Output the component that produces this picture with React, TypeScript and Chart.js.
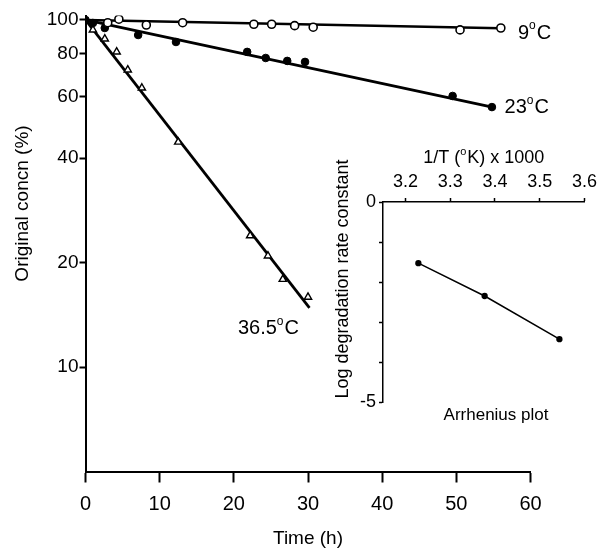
import React, { useEffect, useRef } from 'react';
import { Chart, registerables } from 'chart.js';

Chart.register(...registerables);

const FONT = '"Liberation Sans", Arial, Helvetica, sans-serif';

// ---- Main chart data (time in h, concentration in % of original) ----
const t9 = [3, 4.5, 8.2, 13.1, 22.7, 25.1, 28.2, 30.7, 50.5, 56];
const c9 = [98.2, 100.5, 96.7, 98.2, 97.2, 97.2, 96.3, 95.3, 93.6, 94.8];
const t23 = [0, 1.0, 2.6, 7.1, 12.2, 21.8, 24.3, 27.2, 29.6, 49.5, 54.8];
const c23 = [100, 98, 94.8, 90.5, 86.4, 80.9, 77.7, 76.2, 75.7, 60.4, 56.1];
const t365 = [1.0, 2.6, 4.2, 5.7, 7.6, 12.5, 22.2, 24.6, 26.6, 30.0];
const c365 = [93.6, 88.2, 80.9, 71.8, 63.7, 44.5, 23.9, 20.9, 17.9, 15.9];

// fitted regression lines (end points)
const fit9T = [0, 56];
const fit9C = [100, 94.6];
const fit23T = [0, 55];
const fit23C = [100, 56];
const fit365T = [0, 30.2];
const fit365C = [100, 14.8];

const xTicks = [0, 10, 20, 30, 40, 50, 60];
const yTicks = [10, 20, 40, 60, 80, 100];

const curveLabels = ['9°C', '23°C', '36.5°C'];
const labelT = [58.3, 56.5, 20.55];
const labelC = [91.7, 55.8, 12.9];

// ---- Inset (Arrhenius plot) ----
const invT = [3.229, 3.377, 3.544];
const logK = [-1.53, -2.35, -3.43];
const insetXTicks = [3.2, 3.3, 3.4, 3.5, 3.6];
const insetYTicks = [0, -1, -2, -3, -4, -5];
const insetYLabels = ['0', '', '', '', '', '-5'];

const pts = (xs: number[], ys: number[]) => xs.map((x, i) => ({ x, y: ys[i] }));

function drawDeg(ctx: CanvasRenderingContext2D, text: string, x: number, y: number, size: number, align: 'left' | 'center') {
  const parts = text.split('°');
  const big = `${size}px ${FONT}`;
  const small = `${Math.round(size * 0.62)}px ${FONT}`;
  ctx.font = big;
  const w0 = ctx.measureText(parts[0]).width;
  const w2 = parts.length > 1 ? ctx.measureText(parts[1]).width : 0;
  ctx.font = small;
  const w1 = parts.length > 1 ? ctx.measureText('o').width + 1 : 0;
  const total = w0 + w1 + w2;
  let cx = align === 'center' ? x - total / 2 : x;
  ctx.textAlign = 'left';
  ctx.textBaseline = 'middle';
  ctx.fillStyle = '#000';
  ctx.font = big;
  ctx.fillText(parts[0], cx, y);
  cx += w0;
  if (parts.length > 1) {
    ctx.font = small;
    ctx.fillText('o', cx, y - size * 0.36);
    cx += w1;
    ctx.font = big;
    ctx.fillText(parts[1], cx, y);
  }
}

const mainText = {
  id: 'mainText',
  afterDraw(chart: any) {
    const { ctx, chartArea, scales } = chart;
    ctx.save();
    curveLabels.forEach((s, i) => {
      drawDeg(ctx, s, scales.x.getPixelForValue(labelT[i]), scales.y.getPixelForValue(labelC[i]), 20, 'left');
    });
    // x title
    ctx.font = `19px ${FONT}`;
    ctx.fillStyle = '#000';
    ctx.textAlign = 'center';
    ctx.textBaseline = 'middle';
    ctx.fillText('Time (h)', (chartArea.left + chartArea.right) / 2, chartArea.bottom + 67);
    // y title
    ctx.translate(chartArea.left - 62.5, chartArea.top + 188);
    ctx.rotate(-Math.PI / 2);
    ctx.fillText('Original concn (%)', 0, 0);
    ctx.restore();
  },
};

const insetText = {
  id: 'insetText',
  afterDraw(chart: any) {
    const { ctx, chartArea } = chart;
    ctx.save();
    drawDeg(ctx, '1/T (°K) x 1000', (chartArea.left + chartArea.right) / 2, chartArea.top - 44, 18, 'center');
    ctx.font = `17px ${FONT}`;
    ctx.fillStyle = '#000';
    ctx.textAlign = 'center';
    ctx.textBaseline = 'middle';
    ctx.fillText('Arrhenius plot', chartArea.left + 113, chartArea.bottom + 13);
    ctx.font = `18px ${FONT}`;
    ctx.translate(chartArea.left - 40, chartArea.top + 77);
    ctx.rotate(-Math.PI / 2);
    ctx.fillText('Log degradation rate constant', 0, 0);
    ctx.restore();
  },
};

export default function App() {
  const mainRef = useRef<HTMLCanvasElement>(null);
  const insetRef = useRef<HTMLCanvasElement>(null);

  useEffect(() => {
    const main = new Chart(mainRef.current!, {
      type: 'scatter',
      data: {
        datasets: [
          {
            data: pts(t9, c9), showLine: false, pointStyle: 'circle', pointRadius: 4,
            pointBackgroundColor: '#fff', pointBorderColor: '#000', pointBorderWidth: 1.6, order: 0,
          },
          {
            data: pts(t23, c23), showLine: false, pointStyle: 'circle', pointRadius: 3.8,
            pointBackgroundColor: '#000', pointBorderColor: '#000', pointBorderWidth: 1, order: 0,
          },
          {
            data: pts(t365, c365), showLine: false, pointStyle: 'triangle', pointRadius: 4.2,
            pointBackgroundColor: '#fff', pointBorderColor: '#000', pointBorderWidth: 1.4, order: 0,
          },
          { data: pts(fit9T, fit9C), showLine: true, borderColor: '#000', borderWidth: 2.4, pointRadius: 0, order: 1 },
          { data: pts(fit23T, fit23C), showLine: true, borderColor: '#000', borderWidth: 2.8, pointRadius: 0, order: 1 },
          { data: pts(fit365T, fit365C), showLine: true, borderColor: '#000', borderWidth: 2.8, pointRadius: 0, order: 1 },
        ],
      },
      options: {
        responsive: false,
        devicePixelRatio: 1,
        animation: false,
        layout: { padding: { top: 15.5, right: 71.5, bottom: 0, left: 0 } },
        plugins: { legend: { display: false }, tooltip: { enabled: false } },
        scales: {
          x: {
            type: 'linear', min: 0, max: 60,
            afterBuildTicks: (s: any) => { s.ticks = xTicks.map((v) => ({ value: v })); },
            afterFit: (s: any) => { s.height = 81.5; },
            ticks: { color: '#000', font: { family: FONT, size: 20 }, padding: 10, callback: (v: any) => String(v), maxRotation: 0 },
            grid: { drawOnChartArea: false, drawTicks: true, tickLength: 11, tickColor: '#000', tickWidth: 2 },
            border: { display: true, color: '#000', width: 2 },
          },
          y: {
            type: 'logarithmic', min: 5, max: 103,
            afterBuildTicks: (s: any) => { s.ticks = yTicks.map((v) => ({ value: v })); },
            afterFit: (s: any) => { s.width = 85.5; },
            ticks: { color: '#000', font: { family: FONT, size: 19 }, padding: 1, callback: (v: any) => String(v) },
            grid: { drawOnChartArea: false, drawTicks: true, tickLength: 6, tickColor: '#000', tickWidth: 2 },
            border: { display: true, color: '#000', width: 2 },
          },
        },
      },
      plugins: [mainText],
    } as any);

    const inset = new Chart(insetRef.current!, {
      type: 'scatter',
      data: {
        datasets: [
          {
            data: pts(invT, logK), showLine: true, borderColor: '#000', borderWidth: 1.5,
            pointRadius: 2.4, pointBackgroundColor: '#000', pointBorderColor: '#000',
          },
        ],
      },
      options: {
        responsive: false,
        devicePixelRatio: 1,
        animation: false,
        layout: { padding: { top: 0, right: 15, bottom: 28, left: 0 } },
        plugins: { legend: { display: false }, tooltip: { enabled: false } },
        scales: {
          x: {
            type: 'linear', position: 'top', min: 3.15, max: 3.6,
            afterBuildTicks: (s: any) => { s.ticks = insetXTicks.map((v) => ({ value: v })); },
            afterFit: (s: any) => { s.height = 62; },
            ticks: { color: '#000', font: { family: FONT, size: 18 }, padding: 5, callback: (v: any) => Number(v).toFixed(1), maxRotation: 0 },
            grid: { drawOnChartArea: false, drawTicks: true, tickLength: 4, tickColor: '#000', tickWidth: 1.5 },
            border: { display: true, color: '#000', width: 1.5 },
          },
          y: {
            type: 'linear', min: -5, max: 0,
            afterBuildTicks: (s: any) => { s.ticks = insetYTicks.map((v) => ({ value: v })); },
            afterFit: (s: any) => { s.width = 53; },
            ticks: {
              color: '#000', font: { family: FONT, size: 18 }, padding: 3,
              callback: (v: any) => insetYLabels[insetYTicks.indexOf(Number(v))] ?? '',
            },
            grid: { drawOnChartArea: false, drawTicks: true, tickLength: 4, tickColor: '#000', tickWidth: 1.5 },
            border: { display: true, color: '#000', width: 1.5 },
          },
        },
      },
      plugins: [insetText],
    } as any);

    return () => {
      main.destroy();
      inset.destroy();
    };
  }, []);

  return (
    <div style={{ position: 'absolute', left: 0, top: 0, width: 602, height: 553, background: '#fff' }}>
      <canvas ref={mainRef} width={602} height={553} style={{ position: 'absolute', left: 0, top: 0 }} />
      <canvas ref={insetRef} width={272} height={290} style={{ position: 'absolute', left: 330, top: 140 }} />
    </div>
  );
}
